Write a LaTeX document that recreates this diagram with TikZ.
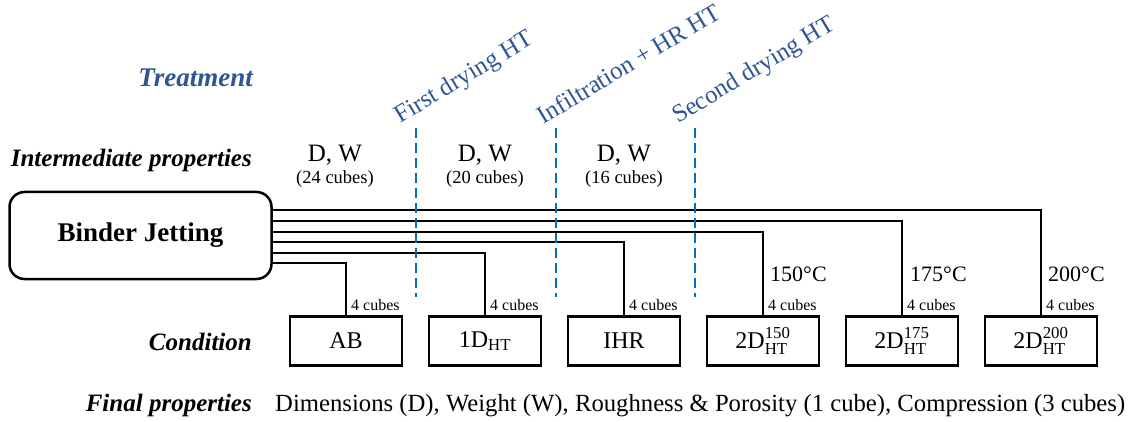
\documentclass[tikz,border=0pt]{standalone}
\usepackage{fontspec}
\usepackage{amsmath}
\setmainfont{Liberation Serif}
\definecolor{tblue}{HTML}{2F5597}
\definecolor{dblue}{HTML}{0070C0}
\begin{document}
\begin{tikzpicture}[x=1pt,y=-1pt,
  lab/.style={font=\fontsize{25}{28}\selectfont\bfseries\itshape, anchor=base east, inner sep=0pt},
  condbox/.style={draw, line width=2.2pt, minimum width=112pt, minimum height=49pt, inner sep=0pt, font=\fontsize{24}{26}\selectfont},
  wire/.style={line width=1.6pt},
  dashline/.style={dblue, line width=1.8pt, dash pattern=on 10pt off 5pt},
  treat/.style={tblue, font=\fontsize{25}{28}\selectfont, rotate=31, anchor=base west, inner sep=0pt},
  cubes/.style={font=\fontsize{16}{18}\selectfont, anchor=base west, inner sep=0pt},
  temp/.style={font=\fontsize{22}{24}\selectfont, anchor=base west, inner sep=0pt},
  dw/.style={font=\fontsize{25}{28}\selectfont, anchor=base, inner sep=0pt},
  cnt/.style={font=\fontsize{18.5}{20}\selectfont, anchor=base, inner sep=0pt},
  body/.style={font=\fontsize{24.7}{27}\selectfont, anchor=base west, inner sep=0pt}]
\useasboundingbox (0,0) rectangle (1135,422);

% left labels
\node[lab, tblue, font=\fontsize{27}{30}\selectfont\bfseries\itshape] (ltr) at (253,87) {Treatment};
\node[lab] (lip) at (252,167) {Intermediate properties};
\node[lab] (lco) at (252,350) {Condition};
\node[lab] (lfp) at (252,411) {Final properties};
\node[body] (fpt) at (275,411) {Dimensions (D), Weight (W), Roughness \& Porosity (1 cube), Compression (3 cubes)};

% binder jetting
\node[draw, line width=2.5pt, rounded corners=15pt, minimum width=262pt, minimum height=87pt,
      font=\fontsize{27}{30}\selectfont\bfseries] (bj) at (140.5,235.5) {Binder Jetting};

% condition boxes
\node[condbox] (c1) at (346,341) {AB};
\node[condbox] (c2) at (485,341) {$\text{1D}_{\text{HT}}$};
\node[condbox] (c3) at (624,341) {IHR};
\node[condbox] (c4) at (763,341) {$\text{2D}^{\text{150}}_{\text{HT}}$};
\node[condbox] (c5) at (902,341) {$\text{2D}^{\text{175}}_{\text{HT}}$};
\node[condbox] (c6) at (1041,341) {$\text{2D}^{\text{200}}_{\text{HT}}$};

% wires
\draw[wire] ([yshift=25.5pt]bj.east) -| (c6.north);
\draw[wire] ([yshift=14.5pt]bj.east) -| (c5.north);
\draw[wire] ([yshift=3.5pt]bj.east) -| (c4.north);
\draw[wire] ([yshift=-6.5pt]bj.east) -| (c3.north);
\draw[wire] ([yshift=-17.5pt]bj.east) -| (c2.north);
\draw[wire] ([yshift=-27.5pt]bj.east) -| (c1.north);

% 4 cubes labels
\foreach \c in {c1,c2,c3,c4,c5,c6}
  \node[cubes] (\c q) at ([xshift=5pt,yshift=5pt]\c.north) {4 cubes};

% temperatures
\node[temp] (tp4) at ([xshift=7pt,yshift=34pt]c4.north) {150°C};
\node[temp] (tp5) at ([xshift=8pt,yshift=34pt]c5.north) {175°C};
\node[temp] (tp6) at ([xshift=7pt,yshift=34pt]c6.north) {200°C};

% dashed separators
\coordinate (d1a) at (416,128); \coordinate (d1b) at (416,297);
\coordinate (d2a) at (556,128); \coordinate (d2b) at (556,297);
\coordinate (d3a) at (695,128); \coordinate (d3b) at (695,297);
\draw[dashline] (d1a) -- (d1b);
\draw[dashline] (d2a) -- (d2b);
\draw[dashline] (d3a) -- (d3b);

% treatments
\node[treat] (t1) at (400,124) {First drying HT};
\node[treat] (t2) at (543,125) {Infiltration + HR HT};
\node[treat] (t3) at (678,124) {Second drying HT};

% intermediate properties
\node[dw] (w1) at (335,162) {D, W};
\node[cnt] (n1) at (335,184) {(24 cubes)};
\node[dw] (w2) at (485,162) {D, W};
\node[cnt] (n2) at (485,184) {(20 cubes)};
\node[dw] (w3) at (624,162) {D, W};
\node[cnt] (n3) at (624,184) {(16 cubes)};
\end{tikzpicture}
\end{document}
